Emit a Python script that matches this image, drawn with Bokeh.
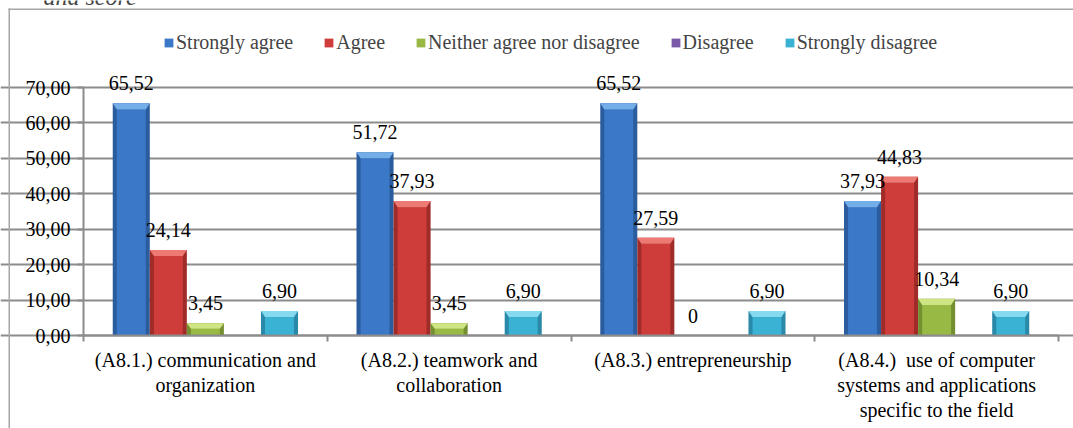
import numpy as np
from bokeh.plotting import figure
from bokeh.core.properties import value
from bokeh.models import (Range1d, FixedTicker, Legend, LegendItem, Label,
                          LabelSet, ColumnDataSource, BoxAnnotation)
from bokeh.embed import file_html
from bokeh.resources import INLINE

# ---- data -------------------------------------------------------------
categories = [
    "(A8.1.) communication and\norganization",
    "(A8.2.) teamwork and\ncollaboration",
    "(A8.3.) entrepreneurship",
    "(A8.4.)\u00a0 use of computer\nsystems and applications\nspecific to the field",
]
series_names = ["Strongly agree", "Agree", "Neither agree nor disagree",
                "Disagree", "Strongly disagree"]
strongly_agree = [65.52, 51.72, 65.52, 37.93]
agree = [24.14, 37.93, 27.59, 44.83]
neutral = [3.45, 3.45, 0.0, 10.34]
disagree = [0.0, 0.0, 0.0, 0.0]
strongly_disagree = [6.90, 6.90, 6.90, 6.90]
labelled_series = [True, True, True, False, True]
y_ticks = [0, 10, 20, 30, 40, 50, 60, 70]

series_values = [strongly_agree, agree, neutral, disagree, strongly_disagree]

# ---- styling / geometry -------------------------------------------------
W, H = 1073, 428
PLOT_L, PLOT_R, PLOT_T, PLOT_B = 83, 1058, 87, 335   # value area on the page
Y_MAX = y_ticks[-1]
N = len(categories)

FONT = "Liberation Serif"
GRID = "#8c8c8c"
main_colors = ["#3b78c8", "#cf3d3a", "#98b944", "#7a5aa8", "#3ab2d4"]
dark_colors = ["#2b5c9e", "#a02c2a", "#748f30", "#5a3f85", "#2a88a8"]
light_colors = ["#74aee9", "#ec7a72", "#cfe482", "#a78bd0", "#86daf0"]


def fmt(v):
    return "0" if v == 0 else f"{v:.2f}".replace(".", ",")


# the frame spans the whole page so that legend and captions are not clipped
px_x = (PLOT_R - PLOT_L) / N
px_y = (PLOT_B - PLOT_T) / Y_MAX
x_range = Range1d(-PLOT_L / px_x, N + (W - PLOT_R) / px_x)
y_range = Range1d(-(H - PLOT_B) / px_y, PLOT_B / px_y)

p = figure(width=W, height=H, x_range=x_range, y_range=y_range,
           output_backend="svg", toolbar_location=None,
           min_border_left=0, min_border_right=0,
           min_border_top=0, min_border_bottom=0)
p.outline_line_color = None
p.background_fill_color = "white"
p.border_fill_color = "white"

# axes pinned at the value origin
centers = np.arange(N) + 0.5
bounds = np.arange(N + 1)
p.xaxis.fixed_location = 0
p.xaxis.bounds = (0, N)
p.xaxis.ticker = FixedTicker(ticks=list(centers), minor_ticks=list(bounds))
p.xaxis.major_label_overrides = {float(c): lab for c, lab in zip(centers, categories)}
p.xaxis.major_tick_out = 0
p.xaxis.major_tick_in = 0
p.xaxis.minor_tick_out = 6
p.xaxis.minor_tick_in = 0
p.xaxis.minor_tick_line_color = GRID
p.xaxis.minor_tick_line_width = 2
p.xaxis.major_label_standoff = 7
p.xaxis.major_label_text_line_height = 1.15

p.yaxis.fixed_location = 0
p.yaxis.bounds = (0, Y_MAX)
p.yaxis.ticker = FixedTicker(ticks=y_ticks)
p.yaxis.major_label_overrides = {t: f"{t:.2f}".replace(".", ",") for t in y_ticks}
p.yaxis.major_tick_out = 6
p.yaxis.major_tick_in = 0
p.yaxis.minor_tick_line_color = None
p.yaxis.major_tick_line_color = GRID
p.yaxis.major_tick_line_width = 2
p.yaxis.major_label_standoff = 7

for ax in (p.xaxis, p.yaxis):
    ax.axis_line_color = GRID
    ax.axis_line_width = 2
    ax.major_label_text_font = FONT
    ax.major_label_text_font_size = "20px"
    ax.major_label_text_color = "black"

p.xgrid.visible = False
p.ygrid.ticker = FixedTicker(ticks=y_ticks)
p.ygrid.bounds = (0, N)
p.ygrid.grid_line_color = GRID
p.ygrid.grid_line_width = 2

# ---- bevelled bars ----------------------------------------------------
bar_w = 0.152
inner = 0.78
legend_items = []
for i, (name, vals) in enumerate(zip(series_names, series_values)):
    vals = np.asarray(vals, dtype=float)
    xs = centers + (i - 2) * bar_w
    cap = np.minimum(1.7, vals * 0.45)

    p.vbar(x=xs, top=vals, bottom=0, width=bar_w,
           fill_color=dark_colors[i], line_color=None)
    body = p.vbar(x=xs, top=vals - cap, bottom=0, width=bar_w * inner,
                  fill_color=main_colors[i], line_color=None)
    half = bar_w / 2
    cap_xs = [[x - half, x + half, x + half * inner, x - half * inner] for x in xs]
    cap_ys = [[v, v, v - c, v - c] for v, c in zip(vals, cap)]
    p.patches(cap_xs, cap_ys, fill_color=light_colors[i], line_color=None)

    legend_items.append(LegendItem(label=name, renderers=[body]))

    if labelled_series[i]:
        src = ColumnDataSource(dict(x=xs, y=vals, text=[fmt(v) for v in vals]))
        p.add_layout(LabelSet(x="x", y="y", text="text", source=src,
                              text_align="center", text_baseline="middle",
                              y_offset=20, text_font=value(FONT),
                              text_font_size=value("20px"), text_color="black"))

legend = Legend(items=legend_items, orientation="horizontal", location=(163, H - 54),
                glyph_width=11, glyph_height=11, label_standoff=2, spacing=30,
                padding=0, margin=0, border_line_color=None,
                background_fill_alpha=0, label_text_font=FONT,
                label_text_font_size="20px", label_height=22)
p.add_layout(legend, "center")

# ---- surrounding page frame and caption fragment -----------------------
page_edge = dict(left_units="screen", right_units="screen",
                 bottom_units="screen", top_units="screen",
                 fill_color="#a6a6a6", fill_alpha=1, line_color=None)
p.add_layout(BoxAnnotation(left=8, right=9.5, bottom=0, top=H - 8, **page_edge))
p.add_layout(BoxAnnotation(left=8, right=W, bottom=H - 9.5, top=H - 8, **page_edge))
p.add_layout(Label(x=43, y=H + 4, x_units="screen", y_units="screen",
                   text="and score", text_font=FONT, text_font_style="italic",
                   text_font_size="24px", text_baseline="alphabetic"))

open("out.html", "w").write(file_html(p, INLINE))
